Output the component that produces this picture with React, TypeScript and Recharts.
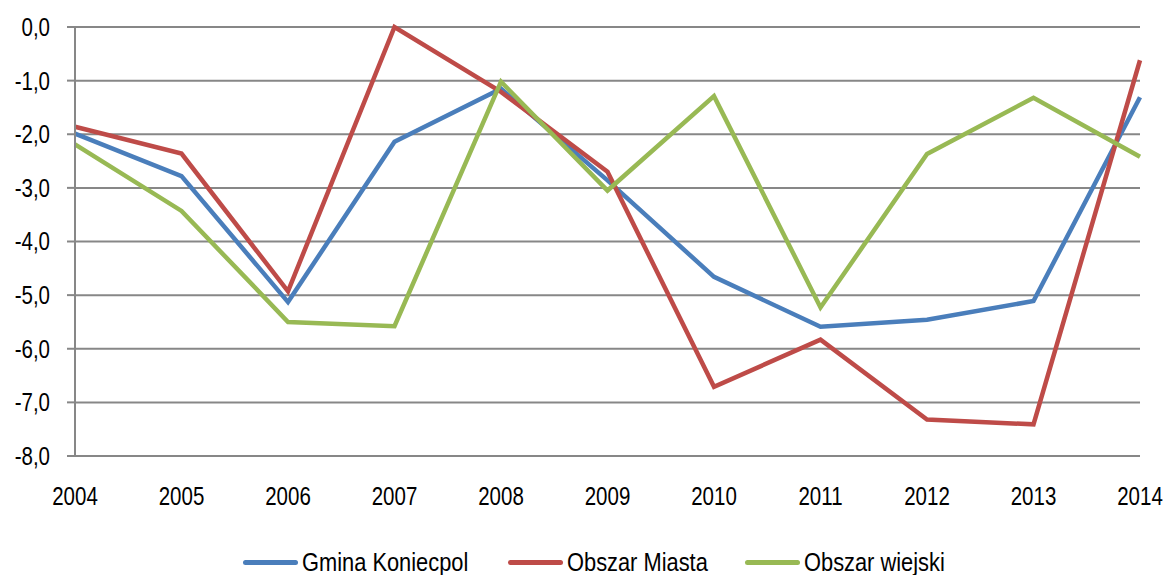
import { CartesianGrid, Legend, Line, LineChart, XAxis, YAxis } from "recharts";

const years = ["2004", "2005", "2006", "2007", "2008", "2009", "2010", "2011", "2012", "2013", "2014"];
const gmina = [-1.99, -2.78, -5.13, -2.14, -1.15, -2.86, -4.66, -5.59, -5.46, -5.11, -1.31];
const miasto = [-1.86, -2.36, -4.93, 0.0, -1.21, -2.7, -6.71, -5.83, -7.32, -7.41, -0.62];
const wies = [-2.19, -3.43, -5.5, -5.58, -1.02, -3.05, -1.29, -5.23, -2.37, -1.32, -2.42];
const yTicks = [0, -1, -2, -3, -4, -5, -6, -7, -8];

const series = [
  { key: "gmina", name: "Gmina Koniecpol", color: "#4a7ebb" },
  { key: "miasto", name: "Obszar Miasta", color: "#be4b48" },
  { key: "wies", name: "Obszar wiejski", color: "#98b954" },
];

const data = years.map((year, i) => ({ year, gmina: gmina[i], miasto: miasto[i], wies: wies[i] }));

// no narrow font installed, so the regular one is squeezed horizontally
const font = "'Liberation Sans', Arial, sans-serif";
const squeeze = 0.82;
const grey = "#878787";
const legendLeft = [243, 508, 745];

function XTick({ x, y, payload }: any) {
  return (
    <g transform={`translate(${x},${y})`}>
      <text transform={`scale(${squeeze},1)`} textAnchor="middle" dy="0.71em" fill="#000" fontSize={25} fontFamily={font}>
        {payload.value}
      </text>
    </g>
  );
}

function YTick({ x, y, payload }: any) {
  return (
    <g transform={`translate(${x},${y})`}>
      <text transform={`scale(${squeeze},1)`} textAnchor="end" dy="0.355em" fill="#000" fontSize={25} fontFamily={font}>
        {Number(payload.value).toFixed(1).replace(".", ",")}
      </text>
    </g>
  );
}

function LegendRow() {
  return (
    <div style={{ position: "relative", height: 50, fontFamily: font, fontSize: 26, color: "#000" }}>
      {series.map((s, i) => (
        <div key={s.key} style={{ position: "absolute", left: legendLeft[i], top: 32, height: 20, display: "flex", alignItems: "center", whiteSpace: "nowrap" }}>
          <span style={{ display: "inline-block", width: 55, height: 5, borderRadius: 3, background: s.color, marginRight: 4 }} />
          <span style={{ display: "inline-block", transform: "scaleX(0.84)", transformOrigin: "left center", lineHeight: "20px" }}>{s.name}</span>
        </div>
      ))}
    </div>
  );
}

export default function App() {
  return (
    <div style={{ position: "absolute", left: 0, top: 0, width: 1165, height: 575, background: "#fff" }}>
      <LineChart width={1165} height={575} data={data} margin={{ top: 27, right: 25, left: 0, bottom: 5 }}>
        <CartesianGrid vertical={false} stroke={grey} strokeWidth={2} />
        <XAxis dataKey="year" height={64} axisLine={false} tickLine={false} tickSize={0} tickMargin={31} interval={0} tick={<XTick />} />
        <YAxis
          width={75}
          domain={[-8, 0]}
          ticks={yTicks}
          interval={0}
          axisLine={{ stroke: grey, strokeWidth: 2 }}
          tickLine={{ stroke: grey, strokeWidth: 2 }}
          tickSize={8}
          tickMargin={17}
          tick={<YTick />}
        />
        {series.map((s) => (
          <Line
            key={s.key}
            dataKey={s.key}
            name={s.name}
            stroke={s.color}
            strokeWidth={4.5}
            dot={false}
            activeDot={false}
            type="linear"
            isAnimationActive={false}
          />
        ))}
        <Legend verticalAlign="bottom" content={() => <LegendRow />} />
      </LineChart>
    </div>
  );
}
